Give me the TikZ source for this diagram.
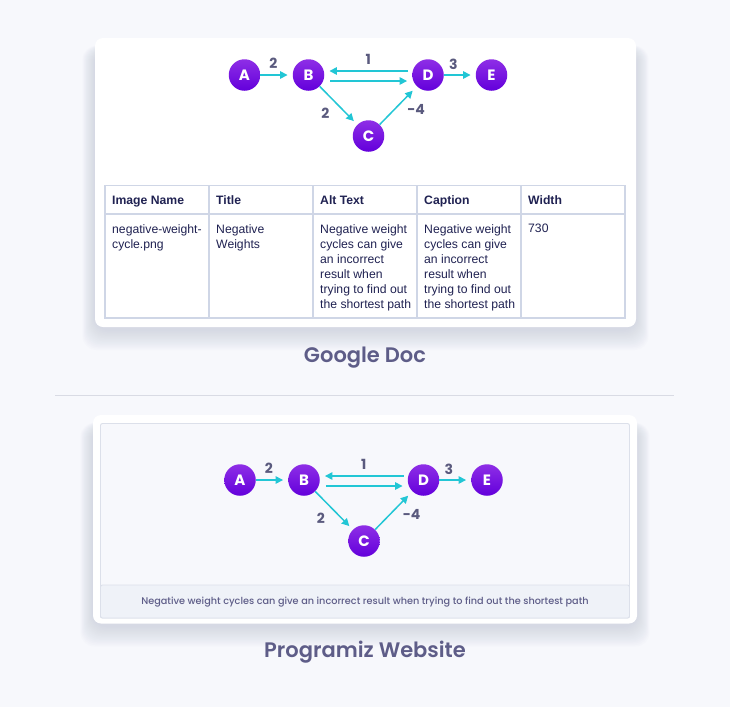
\documentclass[tikz,border=0pt]{standalone}
\usepackage{fontspec}
\setmainfont{Liberation Sans}
\newfontfamily\popfont{Poppins}
\newfontfamily\popsemi{Poppins SemiBold}
\newfontfamily\popmed{Poppins Medium}
\usetikzlibrary{arrows.meta}

\definecolor{pagebg}{HTML}{F7F8FC}
\definecolor{nodetop}{HTML}{8E2EE6}
\definecolor{nodebot}{HTML}{6300DB}
\definecolor{edgecol}{HTML}{22C6D5}
\definecolor{labcol}{HTML}{5A5A7E}
\definecolor{gridcol}{HTML}{CFD6E6}
\definecolor{tabtext}{HTML}{202252}
\definecolor{titlecol}{HTML}{5E5D88}
\definecolor{rulecol}{HTML}{D9DBE4}
\definecolor{framecol}{HTML}{DCE0EA}
\definecolor{capbg}{HTML}{EFF2F8}
\definecolor{shadowcol}{HTML}{A9B1C9}

\tikzset{
  vertex/.style={circle, minimum size=31.5pt, inner sep=0pt, top color=nodetop, bottom color=nodebot,
    text=white, font=\popfont\bfseries\fontsize{15}{15}\selectfont},
  edge/.style={-{Triangle[length=7.5pt,width=7.5pt]}, draw=edgecol, line width=1.5pt, shorten >=5pt},
  weight/.style={text=labcol, inner sep=1pt, font=\popfont\bfseries\fontsize{14}{14}\selectfont},
  card/.style={fill=white, rounded corners=8pt},
  haze/.style={fill=shadowcol, opacity=0.03, rounded corners=14pt},
  gridline/.style={draw=gridcol, line width=1.3pt},
  headcell/.style={anchor=base west, inner sep=0pt, text=tabtext, font=\bfseries\fontsize{12.2}{15}\selectfont},
  bodycell/.style={anchor=north west, inner sep=0pt, align=left, text=tabtext, font=\fontsize{12.2}{15}\selectfont},
  title/.style={text=titlecol, inner sep=0pt, font=\popsemi\fontsize{21}{21}\selectfont}
}

\begin{document}
\begin{tikzpicture}[x=1pt, y=-1pt]
  \fill[pagebg] (0,0) rectangle (730,707);
  \useasboundingbox (0,0) rectangle (730,707);

  % Google Doc card
  \foreach \i in {1,...,14}
    \fill[haze] ({95-0.9*\i},{50-0.3*\i}) rectangle ({636+0.9*\i},{329+1.5*\i});
  \fill[card] (95,38) rectangle (636,327);

  \node [vertex] (a) at (244.5,75 ) {A};
  \node [vertex] (b) at (308.5,75 ) {B};
  \node [vertex] (d) at (428  ,75 ) {D};
  \node [vertex] (e) at (491.5,75 ) {E};
  \node [vertex] (c) at (368.5,136) {C};
  \draw [edge] (a) to node [weight, above=5pt, pos=0.4] (wab) {2} (b);
  \draw [edge, shorten <=4pt] ([yshift=4pt]d.west) to node [weight, above=4.5pt] (wdb) {1} ([yshift=4pt]b.east);
  \draw [edge, shorten <=6pt] ([yshift=-6pt]b.east) to ([yshift=-6pt]d.west);
  \draw [edge] (b) to node [weight, left=15pt, pos=0.7] (wbc) {2} (c);
  \draw [edge, shorten >=6pt] (c) to node [weight, right=11pt, pos=0.4] (wcd) {-4} (d);
  \draw [edge] (d) to node [weight, above=4pt, pos=0.3] (wde) {3} (e);

  % table
  \draw [gridline] (105,185.5) rectangle (625,318);
  \draw [gridline] (105,214) -- (625,214);
  \foreach \x in {209,313,417,521}
    \draw [gridline] (\x,185.5) -- (\x,318);
  \node [headcell] (h1) at (112,204.5) {Image Name};
  \node [headcell] (h2) at (216,204.5) {Title};
  \node [headcell] (h3) at (320,204.5) {Alt Text};
  \node [headcell] (h4) at (424,204.5) {Caption};
  \node [headcell] (h5) at (528,204.5) {Width};
  \node [bodycell] (r1) at (112,224) {negative-weight-\\cycle.png};
  \node [bodycell] (r2) at (216,224) {Negative\\Weights};
  \node [bodycell] (r3) at (320,224) {Negative weight\\cycles can give\\an incorrect\\result when\\trying to find out\\the shortest path};
  \node [bodycell] (r4) at (424,224) {Negative weight\\cycles can give\\an incorrect\\result when\\trying to find out\\the shortest path};
  \node [bodycell] (r5) at (528,224) {730};

  \node [title] (gdoc) at (365,358) {Google Doc};
  \draw [rulecol, line width=1pt] (55,395.7) -- (674,395.7);

  % Programiz Website card
  \foreach \i in {1,...,14}
    \fill[haze] ({93-0.9*\i},{427-0.3*\i}) rectangle ({637+0.9*\i},{625.5+1.5*\i});
  \fill[card] (93,415) rectangle (637,623.5);
  \draw [framecol, fill=pagebg, line width=0.9pt, rounded corners=2pt] (100.5,423.5) rectangle (629.5,618);
  \draw [framecol, fill=capbg, line width=0.9pt, rounded corners=2pt] (100.5,585) rectangle (629.5,618);

  \begin{scope}[shift={(-4.5,405)}]
    \node [vertex] (pa) at (244.5,75 ) {A};
    \node [vertex] (pb) at (308.5,75 ) {B};
    \node [vertex] (pd) at (428  ,75 ) {D};
    \node [vertex] (pe) at (491.5,75 ) {E};
    \node [vertex] (pc) at (368.5,136) {C};
    \draw [edge] (pa) to node [weight, above=5pt, pos=0.4] (pwab) {2} (pb);
    \draw [edge, shorten <=4pt] ([yshift=4pt]pd.west) to node [weight, above=4.5pt] (pwdb) {1} ([yshift=4pt]pb.east);
    \draw [edge, shorten <=6pt] ([yshift=-6pt]pb.east) to ([yshift=-6pt]pd.west);
    \draw [edge] (pb) to node [weight, left=15pt, pos=0.7] (pwbc) {2} (pc);
    \draw [edge, shorten >=6pt] (pc) to node [weight, right=11pt, pos=0.4] (pwcd) {-4} (pd);
    \draw [edge] (pd) to node [weight, above=4pt, pos=0.3] (pwde) {3} (pe);
  \end{scope}

  \node [text=titlecol, font=\popmed\fontsize{9.7}{9.7}\selectfont] (cap) at (365,601.7)
    {Negative weight cycles can give an incorrect result when trying to find out the shortest path};

  \node [title] (pweb) at (365,652) {Programiz Website};
\end{tikzpicture}
\end{document}
